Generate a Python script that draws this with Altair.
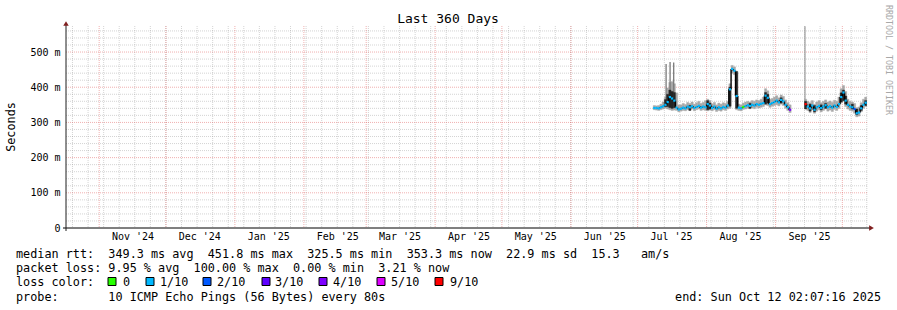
import altair as alt
import pandas as pd

# ---------------- data ----------------
END_TIME = "2025-10-12T02:07:16"
SPAN_DAYS = 360
Y_TOP = 574  # ms

# segment 1 (daily, from Jul 8 2025)
seg1_start = "2025-07-08"
median_1 = [341, 341, 340, 343, 346, 350, 358, 372, 368, 362,
            342, 337, 339, 342, 340, 345, 343, 346, 341, 344,
            347, 342, 345, 343, 352, 348, 341, 345, 339, 343,
            340, 344, 342, 348, 394, 452, 447, 375, 342, 340,
            344, 346, 349, 347, 350, 348, 352, 350, 353, 355,
            376, 370, 352, 355, 358, 362, 357, 364, 360, 350,
            343, 336]
hi_1 = [348, 347, 348, 352, 358, 372, 398, 414, 416, 410,
        384, 350, 350, 354, 351, 357, 354, 358, 352, 356,
        360, 354, 357, 362, 366, 362, 353, 357, 350, 355,
        352, 356, 354, 360, 410, 462, 458, 440, 352, 350,
        355, 358, 360, 358, 362, 360, 364, 362, 366, 372,
        396, 390, 366, 368, 372, 376, 370, 378, 374, 364,
        356, 350]
lo_1 = [336, 335, 334, 336, 338, 340, 338, 336, 334, 335,
        334, 330, 332, 334, 333, 336, 335, 338, 333, 336,
        338, 334, 336, 334, 333, 335, 333, 336, 331, 334,
        332, 336, 334, 338, 340, 440, 436, 336, 334, 333,
        337, 338, 340, 339, 341, 339, 343, 341, 343, 345,
        350, 348, 343, 346, 348, 350, 347, 352, 348, 340,
        334, 328]
loss_1 = ["1/10"] * 40 + ["0"] + ["1/10"] * 20 + ["4/10"]

# segment 2 (daily, from Sep 14 2025)
seg2_start = "2025-09-14"
median_2 = [352, 345, 340, 348, 336, 343, 347, 341, 345, 349,
            343, 346, 342, 348, 344, 352, 372, 385, 362, 350,
            345, 343, 338, 326, 328, 340, 350, 356, 353]
hi_2 = [366, 360, 356, 362, 352, 358, 362, 356, 360, 364,
        358, 361, 357, 363, 360, 372, 396, 405, 388, 366,
        360, 358, 354, 342, 344, 356, 366, 372, 368]
lo_2 = [340, 334, 328, 336, 326, 332, 336, 330, 334, 338,
        332, 335, 331, 337, 334, 340, 355, 360, 345, 338,
        334, 332, 326, 316, 318, 330, 340, 345, 344]
loss_2 = ["9/10"] + ["1/10"] * 21 + ["2/10"] + ["1/10"] * 6

# dense (dark) smoke days
dark_days = ["2025-07-13", "2025-07-14", "2025-07-15", "2025-07-16", "2025-07-17",
             "2025-07-24", "2025-08-01", "2025-08-02", "2025-08-11", "2025-08-14",
             "2025-08-20", "2025-08-27", "2025-08-28", "2025-09-03", "2025-09-14",
             "2025-09-16", "2025-09-18", "2025-09-21", "2025-09-23", "2025-09-30",
             "2025-10-01", "2025-10-02", "2025-10-05", "2025-10-07", "2025-10-09",
             "2025-10-11"]
dark_hi = [365, 380, 392, 388, 385, 348, 362, 355, 400, 445, 354, 385, 380, 370, 360,
           352, 348, 350, 354, 384, 392, 375, 352, 338, 348, 362]
dark_lo = [345, 345, 342, 340, 342, 334, 336, 338, 346, 340, 340, 352, 355, 355, 338,
           332, 330, 336, 340, 358, 362, 352, 338, 322, 334, 348]

# single tall smoke spikes
spike_times = ["2025-07-13T19:00:00", "2025-07-15T14:00:00", "2025-07-17T05:00:00",
               "2025-09-14T05:00:00"]
spike_hi = [466, 472, 470, 573]
spike_lo = [350, 350, 348, 352]
spike_col = ["#7a7a7a", "#7a7a7a", "#7a7a7a", "#a0a0a0"]

loss_labels = ["0", "1/10", "2/10", "3/10", "4/10", "5/10", "9/10"]
loss_colors = ["#26ff00", "#00b8ff", "#0059ff", "#5e00ff", "#7e00ff", "#dd00ff", "#ff0000"]

y_ticks = [0, 100, 200, 300, 400, 500]

title_text = "Last 360 Days"
ylabel_text = "Seconds"
watermark = "RRDTOOL / TOBI OETIKER"
line_rtt = "median rtt:  349.3 ms avg  451.8 ms max  325.5 ms min  353.3 ms now  22.9 ms sd  15.3   am/s"
line_loss = "packet loss: 9.95 % avg  100.00 % max  0.00 % min  3.21 % now"
line_color = "loss color:"
line_probe = "probe:       10 ICMP Echo Pings (56 Bytes) every 80s"
line_end = "end: Sun Oct 12 02:07:16 2025"

# ---------------- helpers ----------------
MONO = "DejaVu Sans Mono"
NB = "\u00a0"


def ms(ts):
    return pd.DatetimeIndex(ts).as_unit("ns").asi8 // 1_000_000


end_ts = pd.Timestamp(END_TIME)
start_ts = end_ts - pd.Timedelta(days=SPAN_DAYS)
START_MS = int(ms([start_ts])[0])
END_MS = int(ms([end_ts])[0])

week_lines = pd.date_range("2024-10-20", end_ts, freq="7D")
month_lines = pd.date_range("2024-11-01", end_ts, freq="MS")
label_pos = month_lines[:-1] + pd.Timedelta(days=15)
LABEL_MS = [int(v) for v in ms(label_pos)]


def seg_frame(start, med, hi, lo, loss, seg):
    t = pd.date_range(start, periods=len(med), freq="D")
    df = pd.DataFrame({
        "t": ms(t), "t2": ms(t + pd.Timedelta(days=1)),
        "median": med, "hi": hi, "lo": lo, "loss": loss, "seg": seg,
    })
    df["prev"] = df["median"].shift(1)
    return df


df = pd.concat([seg_frame(seg1_start, median_1, hi_1, lo_1, loss_1, 1),
                seg_frame(seg2_start, median_2, hi_2, lo_2, loss_2, 2)],
               ignore_index=True)
conn = df.dropna(subset=["prev"])

dt = pd.to_datetime(dark_days)
dark_df = pd.DataFrame({"t": ms(dt), "t2": ms(dt + pd.Timedelta(days=1)),
                        "hi": dark_hi, "lo": dark_lo})
spike_df = pd.DataFrame({"t": ms(pd.to_datetime(spike_times)), "hi": spike_hi,
                         "lo": spike_lo, "c": spike_col})

minor_y = pd.DataFrame({"v": [v for v in range(20, Y_TOP, 20) if v % 100 != 0]})
major_y = pd.DataFrame({"v": [v for v in y_ticks if v > 0]})
week_df = pd.DataFrame({"t": ms(week_lines)})
month_df = pd.DataFrame({"t": ms(month_lines)})

X_SCALE = alt.Scale(type="utc", domain=[START_MS, END_MS])
Y_SCALE = alt.Scale(domain=[0, Y_TOP], nice=False)
X_AXIS = alt.Axis(values=LABEL_MS, labelExpr="utcFormat(datum.value, \"%b '%y\")",
                  title=None, grid=False, ticks=False, domain=False,
                  labelFont=MONO, labelFontSize=10, labelColor="#000",
                  labelPadding=3, labelFlush=False, labelOverlap=False)
Y_AXIS = alt.Axis(values=y_ticks,
                  labelExpr="datum.value == 0 ? '0" + NB + NB + "' : datum.value + '" + NB + "m'",
                  title=None, grid=False, ticks=False, domain=False,
                  labelFont=MONO, labelFontSize=10, labelColor="#000", labelPadding=6)


def X(f):
    return alt.X(f, type="temporal", scale=X_SCALE, axis=X_AXIS)


def Y(f):
    return alt.Y(f, type="quantitative", scale=Y_SCALE, axis=Y_AXIS)


ONE = pd.DataFrame({"a": [0]})
layers = []

# grid
layers.append(alt.Chart(minor_y).mark_rule(color="#8f8f8f", opacity=0.38, strokeDash=[1, 1], strokeWidth=1)
              .encode(y=Y("v")))
layers.append(alt.Chart(week_df).mark_rule(color="#8f8f8f", opacity=0.38, strokeDash=[1, 1], strokeWidth=1)
              .encode(x=X("t")))
layers.append(alt.Chart(major_y).mark_rule(color="#de4f4f", opacity=0.45, strokeDash=[1, 1], strokeWidth=1)
              .encode(y=Y("v")))
layers.append(alt.Chart(month_df).mark_rule(color="#de4f4f", opacity=0.45, strokeDash=[1, 1], strokeWidth=1)
              .encode(x=X("t")))

# smoke
layers.append(alt.Chart(df).mark_rect(color="#a8a8a8", stroke="#a8a8a8", strokeWidth=0.4, clip=True)
              .encode(x=X("t"), x2="t2:T", y=Y("lo"), y2="hi:Q"))
layers.append(alt.Chart(spike_df).mark_rule(strokeWidth=1.3, clip=True)
              .encode(x=X("t"), y=Y("lo"), y2="hi:Q", color=alt.Color("c:N", scale=None)))
layers.append(alt.Chart(dark_df).mark_rect(color="#262626", stroke="#262626", strokeWidth=0.4, clip=True)
              .encode(x=X("t"), x2="t2:T", y=Y("lo"), y2="hi:Q"))

# median
layers.append(alt.Chart(conn).mark_rule(color="#000000", strokeWidth=1.4, clip=True)
              .encode(x=X("t"), y=Y("prev"), y2="median:Q"))
layers.append(alt.Chart(df).mark_rule(strokeWidth=2.2, clip=True)
              .encode(x=X("t"), x2="t2:T", y=Y("median"),
                      color=alt.Color("loss:N", scale=alt.Scale(domain=loss_labels, range=loss_colors),
                                      legend=None)))

# axis lines and arrows
layers.append(alt.Chart(ONE).mark_rule(color="#000000", strokeWidth=1)
              .encode(x=alt.value(-3), x2=alt.value(804), y=alt.value(202)))
layers.append(alt.Chart(ONE).mark_rule(color="#1f1f1f", strokeWidth=1)
              .encode(x=alt.value(0), y=alt.value(-3), y2=alt.value(205)))
layers.append(alt.Chart(ONE).mark_point(shape="triangle-up", filled=True, size=30, color="#801f1f", opacity=1)
              .encode(x=alt.value(0), y=alt.value(-2.5)))
layers.append(alt.Chart(ONE).mark_point(shape="triangle-right", filled=True, size=30, color="#801f1f", opacity=1)
              .encode(x=alt.value(805.5), y=alt.value(202)))


def txt(s, x, y, size=11.8, align="left", angle=0, color="#000000"):
    return (alt.Chart(ONE)
            .mark_text(font=MONO, fontSize=size, align=align, baseline="middle", angle=angle, color=color)
            .encode(x=alt.value(x), y=alt.value(y), text=alt.value(s.replace(" ", NB))))


layers.append(txt(title_text, 382, -7, size=13, align="center"))
layers.append(txt(ylabel_text, -55, 101, angle=270, align="center"))
layers.append(txt(watermark, 822, -21, size=8.3, angle=90, color="#a8a8a8"))
layers.append(txt(line_rtt, -50, 228))
layers.append(txt(line_loss, -50, 242.3))
layers.append(txt(line_color, -50, 256))
layers.append(txt(line_probe, -50, 270.7))
layers.append(txt(line_end, 815, 270.7, align="right"))

box_left = [42, 80, 137, 196, 253, 311, 369]
label_left = [57, 94, 151, 209, 267, 325, 384]
for lab, col, bx, lx in zip(loss_labels, loss_colors, box_left, label_left):
    layers.append(alt.Chart(ONE).mark_rect(color=col, stroke="#000000", strokeWidth=1)
                  .encode(x=alt.value(bx), x2=alt.value(bx + 8), y=alt.value(251.5), y2=alt.value(259.5)))
    layers.append(txt(lab, lx, 256))

chart = (alt.layer(*layers)
         .properties(width=801, height=202, background="white",
                     padding={"left": 66, "top": 26, "right": 30, "bottom": 82},
                     autosize=alt.AutoSizeParams(type="none"))
         .configure_view(stroke=None))

chart.save("out.html", embed_options={"renderer": "svg", "actions": False})
